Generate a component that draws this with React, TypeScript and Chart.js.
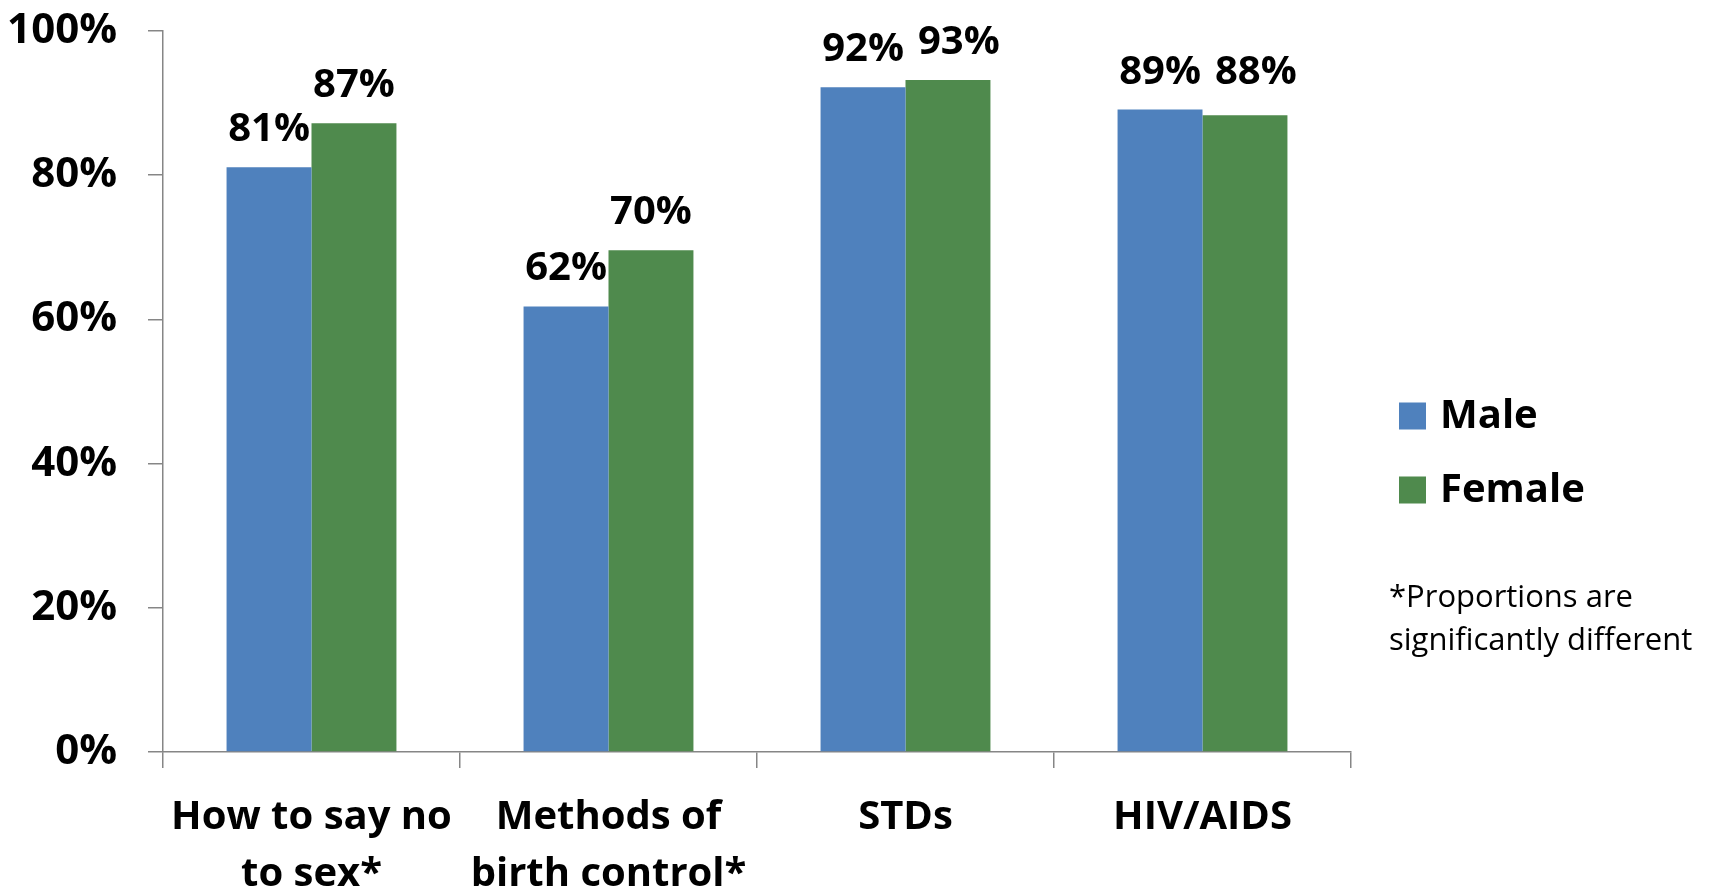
import React, { useEffect, useRef } from 'react';
import { Chart, registerables } from 'chart.js';

Chart.register(...registerables);

// ---- data ----
const categories: (string | string[])[] = [
  ['How to say no', 'to sex*'],
  ['Methods of', 'birth control*'],
  'STDs',
  'HIV/AIDS',
];
const seriesNames = ['Male', 'Female'];
const maleValues = [81.1, 61.8, 92.2, 89.1];
const femaleValues = [87.2, 69.6, 93.2, 88.3];
const yTickValues = [0, 20, 40, 60, 80, 100];
const footnoteLines = ['*Proportions are', 'significantly different'];

// ---- style ----
const seriesColors = ['#4F81BD', '#4F8A4D'];
const axisColor = '#868686';
const FONT = '"Open Sans"';

const dataLabelPlugin = {
  id: 'dataLabels',
  afterDatasetsDraw(chart: any) {
    const ctx = chart.ctx;
    ctx.save();
    ctx.font = `bold 40px ${FONT}`;
    ctx.fillStyle = '#000';
    ctx.textAlign = 'center';
    ctx.textBaseline = 'alphabetic';
    const n = chart.data.labels.length;
    for (let i = 0; i < n; i++) {
      let prevRight = -Infinity;
      let prevBase = -1000;
      chart.data.datasets.forEach((ds: any, d: number) => {
        const bar = chart.getDatasetMeta(d).data[i];
        if (!bar) return;
        const text = Math.round(ds.data[i]) + '%';
        const w = ctx.measureText(text).width;
        let x = bar.x;
        let y = bar.y - 26;
        if (Math.abs(y - prevBase) < 30 && x - w / 2 < prevRight + 14) {
          x = prevRight + 14 + w / 2;
          if (y > prevBase) y = prevBase;
        }
        ctx.fillText(text, x, y);
        prevRight = x + w / 2;
        prevBase = y;
      });
    }
    ctx.restore();
  },
};

const legendPlugin = {
  id: 'sideLegend',
  afterDraw(chart: any) {
    const ctx = chart.ctx;
    const right = chart.chartArea.right;
    ctx.save();
    const rowCenters = [416, 490];
    chart.data.datasets.forEach((ds: any, d: number) => {
      const cy = rowCenters[d];
      ctx.fillStyle = ds.backgroundColor;
      ctx.fillRect(right + 48, cy - 13.5, 27, 27);
      ctx.fillStyle = '#000';
      ctx.font = `bold 40px ${FONT}`;
      ctx.textAlign = 'left';
      ctx.textBaseline = 'middle';
      ctx.fillText(ds.label, right + 89, cy + 1);
    });
    ctx.font = `31px ${FONT}`;
    ctx.textBaseline = 'alphabetic';
    ctx.textAlign = 'left';
    ctx.fillStyle = '#000';
    footnoteLines.forEach((line, k) => {
      ctx.fillText(line, right + 38, 607 + k * 43);
    });
    ctx.restore();
  },
};

export default function App() {
  const canvasRef = useRef<HTMLCanvasElement | null>(null);

  useEffect(() => {
    if (!canvasRef.current) return;
    const chart = new Chart(canvasRef.current, {
      type: 'bar',
      data: {
        labels: categories as any,
        datasets: [
          {
            label: seriesNames[0],
            data: maleValues,
            backgroundColor: seriesColors[0],
            categoryPercentage: 0.572,
            barPercentage: 1,
          },
          {
            label: seriesNames[1],
            data: femaleValues,
            backgroundColor: seriesColors[1],
            categoryPercentage: 0.572,
            barPercentage: 1,
          },
        ],
      },
      options: {
        responsive: false,
        animation: false,
        layout: { padding: { top: 31, right: 362, bottom: 0, left: 0 } },
        plugins: {
          legend: { display: false },
          tooltip: { enabled: false },
        },
        scales: {
          y: {
            min: 0,
            max: 100,
            afterBuildTicks: (s: any) => {
              s.ticks = yTickValues.map((v) => ({ value: v }));
            },
            afterFit: (s: any) => {
              s.width = 163;
              s.paddingTop = 0;
              s.paddingBottom = 0;
            },
            ticks: {
              callback: (v: any) => v + '%',
              color: '#000',
              font: { family: FONT, size: 42, weight: 'bold', lineHeight: 1.2 },
              padding: 31,
            },
            grid: {
              drawOnChartArea: false,
              drawTicks: true,
              tickLength: 15,
              color: axisColor,
              lineWidth: 1.5,
            },
            border: { color: axisColor, width: 1.5 },
          },
          x: {
            afterFit: (s: any) => {
              s.height = 141;
            },
            ticks: {
              color: '#000',
              font: { family: FONT, size: 40, weight: 'bold', lineHeight: 1.43 },
              padding: 21,
              maxRotation: 0,
              autoSkip: false,
            },
            grid: {
              offset: true,
              drawOnChartArea: false,
              drawTicks: true,
              tickLength: 16,
              color: axisColor,
              lineWidth: 1.5,
            },
            border: { color: axisColor, width: 1.5 },
          },
        },
      },
      plugins: [dataLabelPlugin, legendPlugin],
    });
    const fonts: any = (document as any).fonts;
    if (fonts && fonts.load) {
      Promise.all([
        fonts.load(`bold 40px ${FONT}`),
        fonts.load(`31px ${FONT}`),
      ]).then(() => chart.update()).catch(() => {});
    }
    return () => chart.destroy();
  }, []);

  return (
    <div style={{ position: 'absolute', left: 0, top: 0, width: 1713, height: 893, background: '#fff' }}>
      <canvas ref={canvasRef} width={1713} height={893} style={{ display: 'block' }} />
    </div>
  );
}
